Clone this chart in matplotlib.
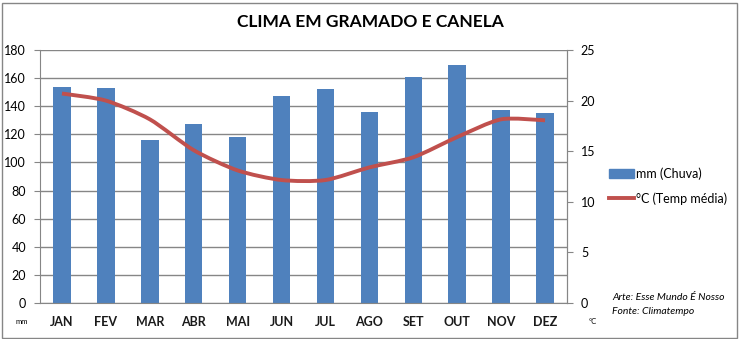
import matplotlib.pyplot as plt
from matplotlib.path import Path
from matplotlib.patches import PathPatch, Rectangle
from matplotlib.lines import Line2D

plt.rcParams['font.family'] = ['Lato', 'DejaVu Sans']

meses = ['JAN', 'FEV', 'MAR', 'ABR', 'MAI', 'JUN',
         'JUL', 'AGO', 'SET', 'OUT', 'NOV', 'DEZ']
chuva_mm = [154, 153, 116, 127, 118, 147, 152, 136, 161, 169, 137, 135]
temp_media = [20.7, 20.0, 18.15, 15.1, 13.1, 12.15,
              12.15, 13.4, 14.4, 16.4, 18.15, 18.05]

azul = '#4F81BD'
vermelho = '#C0504D'
cinza = '#868686'

fig = plt.figure(figsize=(7.39, 3.39), dpi=100)
ax = fig.add_axes([40 / 739, 1 - 303 / 339, 527 / 739, 253 / 339])

x = list(range(len(meses)))
ax.bar(x, chuva_mm, width=0.4, color=azul, zorder=2)
ax.set_xlim(-0.5, len(meses) - 0.5)
ax.set_ylim(0, 180)
ax.set_yticks(range(0, 181, 20))
ax.yaxis.grid(True, color=cinza, lw=1)
ax.set_axisbelow(True)
ax.set_xticks(x)
ax.set_xticklabels(meses, fontweight='bold', fontsize=9, color='#1a1a1a')
ax.tick_params(axis='x', length=0, pad=9)
ax.tick_params(axis='y', length=4, color=cinza, labelsize=9, pad=6)
ax.spines['top'].set_visible(False)
for s in ['left', 'bottom', 'right']:
    ax.spines[s].set_color(cinza)

ax2 = ax.twinx()
ax2.set_ylim(0, 25)
ax2.set_yticks(range(0, 26, 5))
ax2.tick_params(axis='y', length=4, color=cinza, labelsize=9, pad=6)
for s in ['top', 'left', 'bottom']:
    ax2.spines[s].set_visible(False)
ax2.spines['right'].set_color(cinza)

# curva suavizada (bezier) passando pelas médias
k = 8
pts = list(zip(x, temp_media))
verts = [pts[0]]
codes = [Path.MOVETO]
for i in range(len(pts) - 1):
    p0 = pts[i - 1] if i > 0 else pts[i]
    p1 = pts[i]
    p2 = pts[i + 1]
    p3 = pts[i + 2] if i + 2 < len(pts) else pts[i + 1]
    c1 = (p1[0] + (p2[0] - p0[0]) / k, p1[1] + (p2[1] - p0[1]) / k)
    c2 = (p2[0] - (p3[0] - p1[0]) / k, p2[1] - (p3[1] - p1[1]) / k)
    verts += [c1, c2, p2]
    codes += [Path.CURVE4] * 3
ax2.add_patch(PathPatch(Path(verts, codes), fill=False, edgecolor=vermelho,
                        lw=2.8, capstyle='butt', zorder=3))

fig.text(370 / 739, 1 - 22 / 339, 'CLIMA EM GRAMADO E CANELA',
         ha='center', va='center', fontsize=12.5, fontweight='bold')
fig.text(22 / 739, 1 - 322 / 339, 'mm', ha='center', va='center', fontsize=5.5)
fig.text(593 / 739, 1 - 322 / 339, '°C', ha='center', va='center', fontsize=5.5)
fig.text(612 / 739, 1 - 298 / 339, 'Arte: Esse Mundo É Nosso',
         ha='left', va='center', fontsize=7.5, style='italic')
fig.text(612 / 739, 1 - 311 / 339, 'Fonte: Climatempo',
         ha='left', va='center', fontsize=7.5, style='italic')

handles = [Rectangle((0, 0), 1, 1, color=azul),
           Line2D([0], [0], color=vermelho, lw=2.8)]
fig.legend(handles, ['mm (Chuva)', '°C (Temp média)'],
           loc='center left', bbox_to_anchor=(603 / 739, 1 - 186 / 339),
           frameon=False, fontsize=9, handlelength=2.0, handletextpad=0.1,
           labelspacing=1.0, borderpad=0)

fig.patches.append(Rectangle((1.5 / 739, 1.5 / 339), 735 / 739, 335 / 339,
                             transform=fig.transFigure, fill=False,
                             edgecolor=cinza, lw=1))

fig.savefig('out.png', dpi=100)
